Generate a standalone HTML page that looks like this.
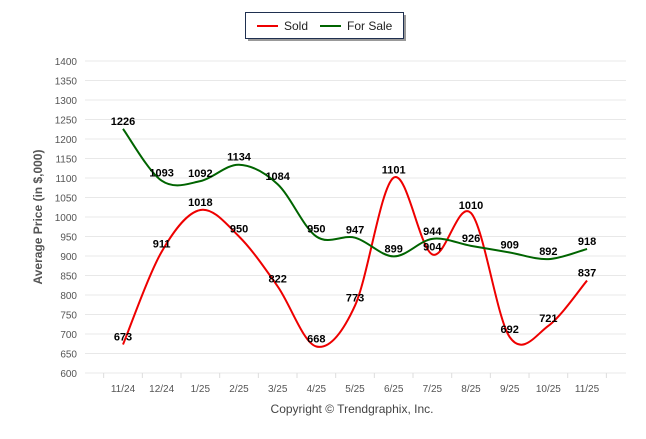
<!DOCTYPE html>
<html><head><meta charset="utf-8"><style>
body{margin:0;background:#fff;width:646px;height:434px;overflow:hidden;font-family:"Liberation Sans",sans-serif}
</style></head><body>
<svg id="c" width="646" height="434" xmlns="http://www.w3.org/2000/svg"></svg>
<script>
const categories=["11/24","12/24","1/25","2/25","3/25","4/25","5/25","6/25","7/25","8/25","9/25","10/25","11/25"];
const soldValues=[673,911,1018,950,822,668,773,1101,904,1010,692,721,837];
const forSaleValues=[1226,1093,1092,1134,1084,950,947,899,944,926,909,892,918];
const yTicks=[600,650,700,750,800,850,900,950,1000,1050,1100,1150,1200,1250,1300,1350,1400];
const NS="http://www.w3.org/2000/svg";
const svg=document.getElementById('c');
const x0=123,dx=38.67,yTop=61,yBot=373;
const X=i=>x0+i*dx;
const Y=v=>yBot-(v-600)/800*(yBot-yTop);
function el(t,a,txt){const e=document.createElementNS(NS,t);for(const k in a)e.setAttribute(k,a[k]);if(txt!=null)e.textContent=txt;svg.appendChild(e);return e;}
yTicks.forEach(v=>{
 const g=el('line',{x1:85,x2:626,y1:Y(v),y2:Y(v),stroke:'#e8e8e8','stroke-width':1});
 
 
 const t=el('text',{x:77,y:Y(v)+4,'text-anchor':'end','font-size':10,fill:'#555'},v);
 
 
});
for(let i=0;i<=categories.length;i++){
 const xx=x0-dx/2+i*dx;
 const tk=el('line',{x1:xx,x2:xx,y1:yBot,y2:yBot+5,stroke:'#ddd'});
 
 
}
categories.forEach((c,i)=>{
 const t=el('text',{x:X(i),y:392,'text-anchor':'middle','font-size':10,fill:'#555'},c);
 
 
});
function path(vals){
 const p=vals.map((v,i)=>[X(i),Y(v)]);
 let d='M'+p[0][0]+','+p[0][1];
 for(let i=0;i<p.length-1;i++){
  const a=p[i-1]||p[i],b=p[i],c=p[i+1],e=p[i+2]||c;const k=1/6;
  d+=` C${b[0]+(c[0]-a[0])*k},${b[1]+(c[1]-a[1])*k} ${c[0]-(e[0]-b[0])*k},${c[1]-(e[1]-b[1])*k} ${c[0]},${c[1]}`;
 }
 return d;
}
const ps=el('path',{d:path(soldValues),fill:'none',stroke:'#ee0000','stroke-width':2});


const pf=el('path',{d:path(forSaleValues),fill:'none',stroke:'#006400','stroke-width':2});


function labels(vals,name){vals.forEach((v,i)=>{
 const t=el('text',{x:X(i),y:Y(v)-4,'text-anchor':'middle','font-size':11,'font-weight':'bold',fill:'#000'},v);
 
 
});}
labels(soldValues,'sold');labels(forSaleValues,'for-sale');
const yl=el('text',{transform:'translate(42,217) rotate(-90)','text-anchor':'middle','font-size':12,'font-weight':'bold',fill:'#555'},'Average Price (in $,000)');


const cp=el('text',{x:352,y:413,'text-anchor':'middle','font-size':12,fill:'#444'},'Copyright © Trendgraphix, Inc.');


el('rect',{x:248,y:15,width:158,height:26,fill:'#999'});
const lb=el('rect',{x:245.5,y:12.5,width:158,height:26,fill:'#fff',stroke:'#1f3050','stroke-width':1});


el('line',{x1:257,x2:278,y1:26,y2:26,stroke:'#ee0000','stroke-width':2});
const l1=el('text',{x:284,y:30,'font-size':12,fill:'#222'},'Sold');


el('line',{x1:320,x2:341,y1:26,y2:26,stroke:'#006400','stroke-width':2});
const l2=el('text',{x:347,y:30,'font-size':12,fill:'#222'},'For Sale');


</script>
</body></html>
